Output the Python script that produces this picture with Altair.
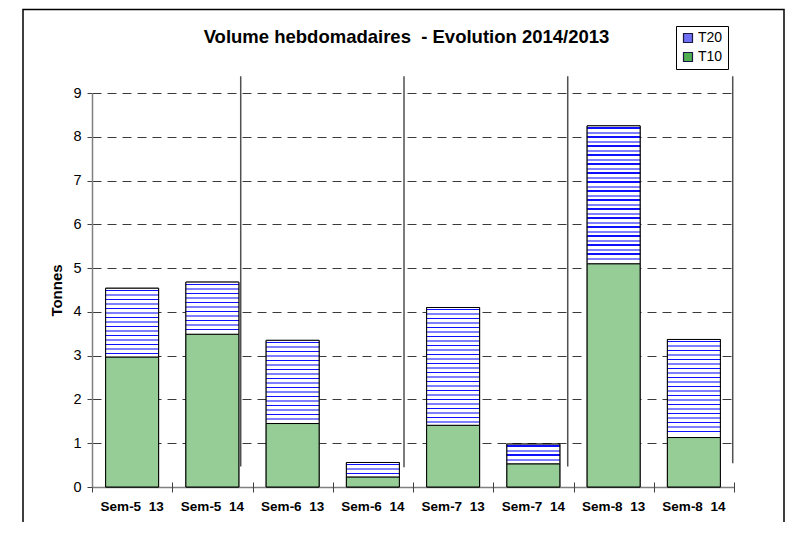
import altair as alt
import pandas as pd

# ---------------- data ----------------
NB = "\u00a0"
categories = ["Sem-5 " + NB + "13", "Sem-5 " + NB + "14", "Sem-6 " + NB + "13",
              "Sem-6 " + NB + "14", "Sem-7 " + NB + "13", "Sem-7 " + NB + "14",
              "Sem-8 " + NB + "13", "Sem-8 " + NB + "14"]
t10_values = [2.97, 3.49, 1.45, 0.23, 1.41, 0.53, 5.10, 1.13]
t20_values = [1.57, 1.19, 1.90, 0.33, 2.69, 0.45, 3.15, 2.24]
series_names = ["T20", "T10"]
y_ticks = [0, 1, 2, 3, 4, 5, 6, 7, 8, 9]

# vertical separator lines (position in category units) and their extent
sep_pos = [1.853, 3.888, 5.928, 7.984]
sep_top = [9.38, 9.38, 9.38, 9.38]
sep_bottom = [0.47, 0.45, 0.47, 0.54]
x_tick_pos = [0, 1, 2, 3, 4, 5, 6, 7, 8]

TITLE = "Volume hebdomadaires " + NB + "- Evolution 2014/2013"
FONT = "Liberation Sans"

W, H = 642, 394
Y_MAX = 9

# ---------------- tables ----------------
rows = []
for c, a, b in zip(categories, t10_values, t20_values):
    rows.append({"cat": c, "series": "T10", "start": 0.0, "end": a, "val": a})
    rows.append({"cat": c, "series": "T20", "start": a, "end": a + b, "val": b})
df = pd.DataFrame(rows)
sep_df = pd.DataFrame({"pos": sep_pos, "top": sep_top, "bottom": sep_bottom})
title_df = pd.DataFrame({"t": [TITLE]})

x_scale = alt.Scale(domain=categories, paddingInner=0.34, paddingOuter=0.17)
y_scale = alt.Scale(domain=[0, Y_MAX], nice=False, zero=True)

x_axis = alt.Axis(title=None, labelAngle=0, labelFontWeight="bold", labelFontSize=13.5,
                  labelColor="black", ticks=False, domainColor="#808080",
                  domainWidth=1.5, labelPadding=12, grid=False, labelFont=FONT)
y_axis = alt.Axis(title="Tonnes", values=y_ticks, grid=True, gridDash=[9, 6],
                  gridColor="#3a3a3a", gridWidth=1, domainColor="#808080",
                  domainWidth=1.5, tickColor="#404040", tickSize=5, labelFontSize=14.5,
                  labelColor="black", labelPadding=6, titleFontWeight="bold",
                  titleFontSize=15, titleColor="black", titlePadding=8,
                  labelFont=FONT, titleFont=FONT)

# base bars (carry the legend)
base = alt.Chart(df).mark_bar(stroke="black", strokeWidth=1).encode(
    x=alt.X("cat:N", scale=x_scale, axis=x_axis),
    y=alt.Y("start:Q", scale=y_scale, axis=y_axis),
    y2="end:Q",
    color=alt.Color("series:N",
                    scale=alt.Scale(domain=series_names, range=["#6f6ff5", "#4fae4f"]),
                    legend=alt.Legend(title=None, orient="none", legendX=584, legendY=-67,
                                      strokeColor="black", fillColor="white", padding=5,
                                      symbolType="square", symbolSize=81,
                                      symbolStrokeColor="#1a1a40", symbolStrokeWidth=1.2,
                                      labelFontSize=14, labelFont=FONT, labelColor="black",
                                      rowPadding=5, labelOffset=3)),
)


def stripe_gradient(value):
    h = value * H / Y_MAX
    period = 4.5
    n = int(h // period)
    stops = [alt.GradientStop(offset=0, color="white")]
    for k in range(n):
        dark = k % 2 == 0
        a = (k * period + 1.4) / h
        b = (k * period + 1.4 + (1.4 if dark else 2.0)) / h
        if b >= 1:
            break
        col = "#1010ff" if dark else "#8080ff"
        stops += [alt.GradientStop(offset=a, color="white"),
                  alt.GradientStop(offset=a, color=col),
                  alt.GradientStop(offset=b, color=col),
                  alt.GradientStop(offset=b, color="white")]
    stops.append(alt.GradientStop(offset=1, color="white"))
    return alt.LinearGradient(gradient="linear", stops=stops, x1=0, x2=0, y1=0, y2=1)


overlays = []
for c, a, b in zip(categories, t10_values, t20_values):
    overlays.append(
        alt.Chart(df).transform_filter(
            (alt.datum.cat == c) & (alt.datum.series == "T10")
        ).mark_bar(fill="#96cd96", stroke="black", strokeWidth=1).encode(
            x=alt.X("cat:N", scale=x_scale, axis=x_axis),
            y=alt.Y("start:Q", scale=y_scale, axis=y_axis),
            y2="end:Q",
        )
    )
    overlays.append(
        alt.Chart(df).transform_filter(
            (alt.datum.cat == c) & (alt.datum.series == "T20")
        ).mark_bar(fill=stripe_gradient(b), stroke="black", strokeWidth=1).encode(
            x=alt.X("cat:N", scale=x_scale, axis=x_axis),
            y=alt.Y("start:Q", scale=y_scale, axis=y_axis),
            y2="end:Q",
        )
    )

bars = alt.layer(base, *overlays)

q_scale = alt.Scale(domain=[0, len(categories)], nice=False, zero=True)

rules = alt.Chart(sep_df).mark_rule(color="#505050", strokeWidth=1.5).encode(
    x=alt.X("pos:Q", scale=q_scale,
            axis=alt.Axis(orient="bottom", values=x_tick_pos, labels=False, domain=False,
                          grid=False, ticks=True, tickSize=10, offset=-5,
                          tickColor="#404040", title=None)),
    y=alt.Y("top:Q", scale=y_scale, axis=y_axis),
    y2="bottom:Q",
)

frame = alt.Chart(pd.DataFrame({"k": [0]})).mark_rect(
    filled=False, stroke="black", strokeWidth=1.5
).encode(x=alt.value(-69), x2=alt.value(692), y=alt.value(-83.5), y2=alt.value(480))

title = alt.Chart(title_df).mark_text(
    font=FONT, fontSize=18.5, fontWeight="bold", color="black",
    align="center", baseline="alphabetic"
).encode(text="t:N", x=alt.value(314.5), y=alt.value(-50))

chart = alt.layer(frame, bars, rules, title).resolve_scale(x="independent").properties(
    width=W, height=H,
    autosize=alt.AutoSizeParams(type="none"),
    padding={"left": 84, "top": 85, "right": 52, "bottom": 35},
).configure(font=FONT).configure_view(strokeWidth=0, stroke="transparent")

chart.save("out.html", embed_options={"renderer": "svg", "actions": False})
